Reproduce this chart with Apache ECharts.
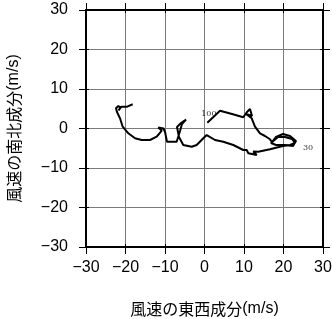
<!DOCTYPE html>
<html><head><meta charset="utf-8">
<script src="https://cdn.jsdelivr.net/npm/echarts@6/dist/echarts.min.js"></script>
<style>html,body{margin:0;padding:0;background:#fff}#c{width:332px;height:319px}</style>
</head><body><div id="c"></div>
<script>
// hodograph: east-west (u) and north-south (v) wind components, m/s
var uWind = [0.71,3.92,6.96,9.82,10.76,11.52,12.03,10.51,11.95,12.78,14.05,15.32,16.58,17.09,18.10,19.87,21.65,23.16,22.41,20.38,18.10,16.84,18.61,20.38,22.15,22.91,21.65,19.87,16.58,13.62,12.35,13.22,11.09,10.68,9.82,7.29,4.76,2.66,0.56,-0.30,-1.97,-3.24,-5.37,-6.46,-6.96,-5.95,-4.68,-5.70,-6.20,-7.04,-9.49,-9.99,-10.38,-11.70,-10.84,-11.52,-12.10,-13.80,-15.90,-17.59,-19.29,-20.71,-21.39,-22.15,-22.41,-21.82,-21.27,-21.77,-21.01,-19.57,-18.18];
var vWind = [1.47,4.51,3.67,2.84,4.18,4.94,3.16,3.67,2.58,0.46,-1.22,-1.90,-2.73,-3.42,-2.15,-1.39,-1.90,-3.16,-4.43,-4.18,-4.18,-3.67,-2.15,-2.15,-2.66,-3.67,-4.18,-4.43,-5.27,-5.87,-5.82,-6.71,-6.28,-5.44,-5.44,-4.18,-3.34,-2.91,-1.65,-2.48,-4.18,-4.61,-4.18,-2.15,0.38,1.39,2.28,1.14,-0.63,-3.34,-3.34,-0.89,0,0.25,-0.51,-1.39,-2.08,-2.91,-2.91,-2.48,-1.22,0.46,2.58,4.18,5.11,5.70,5.32,4.56,5.52,5.52,6.13];
var levelLabels = ['100','30'];
var levelU = [1.1, 26.2];
var levelV = [3.7, -4.9];
var tickValues = [-30,-20,-10,0,10,20,30];

var pts = uWind.map(function(u,i){return [u, vWind[i]];});
var lbl = levelLabels.map(function(t,i){return {value:[levelU[i], levelV[i]], name:t};});

function fmt(v){ return v < 0 ? '\u2212' + Math.abs(v) : String(v); }
var base = {type:'value', min:tickValues[0], max:tickValues[tickValues.length-1], interval:10};
function ax(pos, opts){
  return Object.assign({}, base, {position:pos,
    axisLine:{show:true, onZero:false, lineStyle:{color:'#000', width:2}},
    axisTick:{show:true, inside:false, length:7, lineStyle:{color:'#000', width:1}},
    axisLabel:{show:false}, splitLine:{show:false}}, opts||{});
}
var nameRich = {a:{fontSize:16, fontFamily:'Noto Sans CJK JP', color:'#000'}, b:{fontSize:16, fontFamily:'Liberation Sans, Arial', color:'#000'}};
var chart = echarts.init(document.getElementById('c'), null, {renderer:'canvas'});
chart.setOption({
  animation:false,
  grid:{left:86, right:9, top:10, bottom:72, containLabel:false, outerBoundsMode:'none'},
  xAxis:[
    ax('bottom',{
      axisLabel:{show:true, formatter:fmt, color:'#000', fontSize:16, margin:13, fontFamily:'Liberation Sans, Arial, sans-serif'},
      splitLine:{show:true, lineStyle:{color:'#7a7a7a', width:1}},
      name:'{a|風速の東西成分}{b|(m/s)}', nameLocation:'middle', nameGap:54,
      nameTextStyle:{rich:nameRich}
    }),
    ax('bottom',{axisTick:{show:true, inside:true, length:3, lineStyle:{color:'#000'}}}),
    ax('top'),
    ax('top',{axisTick:{show:true, inside:true, length:3, lineStyle:{color:'#000'}}})
  ],
  yAxis:[
    ax('left',{
      axisLabel:{show:true, formatter:fmt, color:'#000', fontSize:16, margin:18, fontFamily:'Liberation Sans, Arial, sans-serif'},
      splitLine:{show:true, lineStyle:{color:'#7a7a7a', width:1}},
      name:'{a|風速の南北成分}{b|(m/s)}', nameLocation:'middle', nameGap:64, nameRotate:90,
      nameTextStyle:{rich:nameRich}
    }),
    ax('left',{axisTick:{show:true, inside:true, length:3, lineStyle:{color:'#000'}}}),
    ax('right'),
    ax('right',{axisTick:{show:true, inside:true, length:3, lineStyle:{color:'#000'}}})
  ],
  series:[
    {type:'line', data:pts, showSymbol:false, symbol:'none', lineStyle:{color:'#000', width:2}, xAxisIndex:0, yAxisIndex:0, z:5},
    {type:'scatter', data:lbl, symbolSize:0, xAxisIndex:0, yAxisIndex:0,
     label:{show:true, position:'inside', formatter:function(p){return p.name;}, fontSize:8, fontFamily:'DejaVu Serif, serif', color:'#000'}, z:6}
  ]
});
</script></body></html>
